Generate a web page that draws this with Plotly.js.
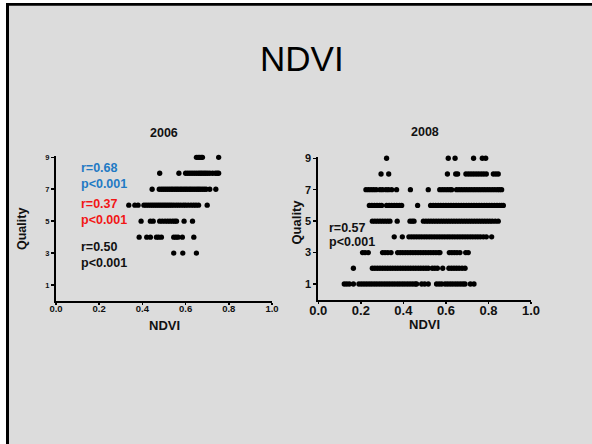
<!DOCTYPE html>
<html>
<head>
<meta charset="utf-8">
<script src="https://cdn.plot.ly/plotly-3.0.1.min.js"></script>
<style>
  html, body { margin: 0; padding: 0; background: #ffffff; }
  #chart { width: 592px; height: 444px; }
</style>
</head>
<body>
<div id="chart"></div>
<script>
// ---------- DATA ----------
var qualityTicks = [1, 3, 5, 7, 9];
var ndviTicks = [0.0, 0.2, 0.4, 0.6, 0.8, 1.0];

// 2006: NDVI values per quality level
var ndvi2006_q9 = [0.650, 0.658, 0.665, 0.672, 0.678, 0.753];
var ndvi2006_q8 = [0.480, 0.569, 0.600, 0.610, 0.620, 0.630, 0.640, 0.650, 0.660, 0.668, 0.676, 0.685, 0.693, 0.702, 0.712, 0.725, 0.738, 0.746, 0.753];
var ndvi2006_q7 = [0.445, 0.478, 0.488, 0.497, 0.506, 0.515, 0.524, 0.533, 0.541, 0.550, 0.558, 0.566, 0.575, 0.583, 0.592, 0.600, 0.608, 0.617, 0.625, 0.634, 0.643, 0.652, 0.660, 0.668, 0.677, 0.686, 0.695, 0.712, 0.740];
var ndvi2006_q6 = [0.337, 0.365, 0.380, 0.407, 0.417, 0.427, 0.437, 0.446, 0.455, 0.464, 0.473, 0.482, 0.491, 0.500, 0.509, 0.518, 0.527, 0.536, 0.546, 0.557, 0.567, 0.578, 0.590, 0.600, 0.612, 0.625, 0.637, 0.648, 0.660, 0.700];
var ndvi2006_q5 = [0.394, 0.437, 0.450, 0.480, 0.492, 0.505, 0.517, 0.528, 0.540, 0.550, 0.558, 0.593, 0.632];
var ndvi2006_q4 = [0.385, 0.420, 0.437, 0.465, 0.475, 0.488, 0.545, 0.555, 0.565, 0.585, 0.638];
var ndvi2006_q3 = [0.545, 0.587, 0.650];

// 2008: NDVI values per quality level
var ndvi2008_q9 = [0.321, 0.611, 0.643, 0.730, 0.771, 0.787];
var ndvi2008_q8 = [0.295, 0.331, 0.607, 0.646, 0.655, 0.694, 0.706, 0.718, 0.730, 0.742, 0.754, 0.766, 0.778, 0.790, 0.823, 0.835, 0.846];
var ndvi2008_q7 = [0.224, 0.236, 0.248, 0.260, 0.272, 0.290, 0.302, 0.318, 0.330, 0.345, 0.368, 0.433, 0.517, 0.571, 0.583, 0.595, 0.607, 0.619, 0.627, 0.650, 0.662, 0.674, 0.686, 0.698, 0.710, 0.722, 0.734, 0.746, 0.758, 0.770, 0.782, 0.794, 0.806, 0.818, 0.830, 0.842, 0.852, 0.862];
var ndvi2008_q6 = [0.240, 0.252, 0.264, 0.276, 0.288, 0.298, 0.321, 0.333, 0.345, 0.357, 0.369, 0.381, 0.392, 0.467, 0.528, 0.540, 0.552, 0.564, 0.576, 0.588, 0.600, 0.612, 0.624, 0.636, 0.648, 0.660, 0.672, 0.684, 0.696, 0.708, 0.720, 0.732, 0.744, 0.756, 0.768, 0.780, 0.792, 0.804, 0.816, 0.828, 0.840, 0.852, 0.862, 0.870];
var ndvi2008_q5 = [0.254, 0.266, 0.278, 0.290, 0.302, 0.314, 0.326, 0.337, 0.371, 0.431, 0.441, 0.450, 0.494, 0.506, 0.518, 0.530, 0.542, 0.554, 0.566, 0.578, 0.590, 0.602, 0.614, 0.626, 0.638, 0.650, 0.662, 0.674, 0.686, 0.698, 0.710, 0.722, 0.734, 0.746, 0.758, 0.770, 0.782, 0.794, 0.806, 0.818, 0.832, 0.846];
var ndvi2008_q4 = [0.357, 0.395, 0.426, 0.438, 0.450, 0.462, 0.474, 0.486, 0.498, 0.510, 0.522, 0.534, 0.546, 0.558, 0.570, 0.582, 0.594, 0.606, 0.618, 0.630, 0.642, 0.654, 0.666, 0.678, 0.690, 0.702, 0.714, 0.726, 0.738, 0.750, 0.762, 0.776, 0.790, 0.815];
var ndvi2008_q3 = [0.208, 0.220, 0.235, 0.302, 0.314, 0.327, 0.342, 0.373, 0.385, 0.397, 0.409, 0.421, 0.433, 0.445, 0.457, 0.469, 0.481, 0.493, 0.505, 0.517, 0.529, 0.541, 0.553, 0.565, 0.572, 0.616, 0.628, 0.640, 0.652, 0.666, 0.693, 0.705];
var ndvi2008_q2 = [0.165, 0.254, 0.266, 0.278, 0.290, 0.302, 0.314, 0.326, 0.338, 0.350, 0.362, 0.374, 0.386, 0.398, 0.410, 0.422, 0.434, 0.446, 0.458, 0.470, 0.482, 0.494, 0.506, 0.517, 0.536, 0.548, 0.560, 0.585, 0.614, 0.626, 0.638, 0.650, 0.662, 0.676, 0.690];
var ndvi2008_q1 = [0.122, 0.134, 0.146, 0.165, 0.191, 0.203, 0.215, 0.227, 0.239, 0.251, 0.263, 0.275, 0.287, 0.299, 0.311, 0.323, 0.335, 0.347, 0.359, 0.371, 0.383, 0.395, 0.407, 0.419, 0.431, 0.443, 0.455, 0.462, 0.486, 0.500, 0.517, 0.556, 0.568, 0.580, 0.596, 0.608, 0.620, 0.632, 0.644, 0.656, 0.668, 0.680, 0.690, 0.715, 0.732];

var stats2006 = [
  {r: "r=0.68", p: "p<0.001", color: "#1f7ac4"},
  {r: "r=0.37", p: "p<0.001", color: "#f21616"},
  {r: "r=0.50", p: "p<0.001", color: "#111111"}
];
var stats2008 = [{r: "r=0.57", p: "p<0.001", color: "#111111"}];

// ---------- BUILD ----------
function rows(list) {
  var xs = [], ys = [];
  list.forEach(function (row) {
    row[1].forEach(function (v) { xs.push(v); ys.push(row[0]); });
  });
  return {x: xs, y: ys};
}
var d2006 = rows([[9, ndvi2006_q9], [8, ndvi2006_q8], [7, ndvi2006_q7], [6, ndvi2006_q6],
                  [5, ndvi2006_q5], [4, ndvi2006_q4], [3, ndvi2006_q3]]);
var d2008 = rows([[9, ndvi2008_q9], [8, ndvi2008_q8], [7, ndvi2008_q7], [6, ndvi2008_q6],
                  [5, ndvi2008_q5], [4, ndvi2008_q4], [3, ndvi2008_q3], [2, ndvi2008_q2], [1, ndvi2008_q1]]);

var W = 592, H = 444;
function px(x) { return x / W; }
function py(y) { return 1 - y / H; }

var FONT = "Liberation Sans, Arial, Helvetica, sans-serif";
var marker = {size: 5.3, color: "#000000"};

var traces = [
  {x: d2006.x, y: d2006.y, type: "scatter", mode: "markers", marker: marker, xaxis: "x", yaxis: "y", cliponaxis: false, hoverinfo: "skip"},
  {x: d2008.x, y: d2008.y, type: "scatter", mode: "markers", marker: marker, xaxis: "x2", yaxis: "y2", cliponaxis: false, hoverinfo: "skip"}
];

function xaxisDef(d, fs) {
  return {
    domain: d, range: [0, 1], tickvals: ndviTicks, tickformat: ".1f",
    showgrid: false, zeroline: false, showline: true, linecolor: "#000", linewidth: 2,
    ticks: "outside", ticklen: 2, tickwidth: 1.5, tickcolor: "#000", ticklabelstandoff: -4,
    tickfont: {family: FONT, size: fs, color: "#111", weight: "bold"}, fixedrange: true
  };
}
function yaxisDef(d, fs, anchor) {
  return {
    domain: d, range: [0, 9.1], tickvals: qualityTicks, anchor: anchor,
    showgrid: false, zeroline: false, showline: true, linecolor: "#000", linewidth: 2,
    ticks: "outside", ticklen: 3, tickwidth: 1.5, tickcolor: "#000",
    tickfont: {family: FONT, size: fs, color: "#111", weight: "bold"}, fixedrange: true
  };
}

var xa1 = xaxisDef([px(56), px(272)], 9.5); xa1.anchor = "y";
var ya1 = yaxisDef([py(301), py(155.7)], 7.5, "x");
var xa2 = xaxisDef([px(318.3), px(531)], 13); xa2.anchor = "y2";
var ya2 = yaxisDef([py(299.7), py(156.7)], 11, "x2");

function ann(text, x, y, size, color, opts) {
  var a = {text: text, x: px(x), y: py(y), xref: "paper", yref: "paper",
           showarrow: false, xanchor: "center", yanchor: "middle",
           font: {family: FONT, size: size, color: color || "#111"}};
  for (var k in (opts || {})) a[k] = opts[k];
  return a;
}

var annotations = [
  ann("NDVI", 302, 58.5, 35, "#000"),
  ann("<b>2006</b>", 164.3, 133, 12.5),
  ann("<b>2008</b>", 424.5, 131.7, 12.5),
  ann("<b>NDVI</b>", 164.5, 325.5, 13),
  ann("<b>NDVI</b>", 424.8, 324, 13),
  ann("<b>Quality</b>", 22, 229, 12.5, "#111", {textangle: -90}),
  ann("<b>Quality</b>", 296, 222.5, 13, "#111", {textangle: -90})
];
var leftY = [[167.7, 184], [203.7, 219.7], [246.7, 263]];
stats2006.forEach(function (s, i) {
  annotations.push(ann("<b>" + s.r + "</b>", 79, leftY[i][0], 12.5, s.color, {xanchor: "left"}));
  annotations.push(ann("<b>" + s.p + "</b>", 79, leftY[i][1], 12.5, s.color, {xanchor: "left"}));
});
annotations.push(ann("<b>" + stats2008[0].r + "</b>", 326.5, 227.7, 12.5, stats2008[0].color, {xanchor: "left"}));
annotations.push(ann("<b>" + stats2008[0].p + "</b>", 326.5, 242.3, 12.5, stats2008[0].color, {xanchor: "left"}));

var shapes = [
  {type: "rect", xref: "paper", yref: "paper", x0: 0, x1: px(6), y0: 0, y1: 1, fillcolor: "#ffffff", line: {width: 0}, layer: "below"},
  {type: "rect", xref: "paper", yref: "paper", x0: 0, x1: 1, y0: py(3), y1: 1, fillcolor: "#ffffff", line: {width: 0}, layer: "below"},
  {type: "rect", xref: "paper", yref: "paper", x0: px(6), x1: px(9), y0: 0, y1: py(3), fillcolor: "#000000", line: {width: 0}, layer: "below"},
  {type: "rect", xref: "paper", yref: "paper", x0: px(6), x1: 1, y0: py(5.8), y1: py(3), fillcolor: "#000000", line: {width: 0}, layer: "below"}
];

var layout = {
  width: W, height: H,
  margin: {l: 0, r: 0, t: 0, b: 0, pad: 0},
  paper_bgcolor: "#dcdcdc", plot_bgcolor: "rgba(0,0,0,0)",
  showlegend: false, hovermode: false,
  font: {family: FONT, color: "#111"},
  xaxis: xa1, yaxis: ya1, xaxis2: xa2, yaxis2: ya2,
  annotations: annotations, shapes: shapes
};

Plotly.newPlot("chart", traces, layout, {staticPlot: true, displayModeBar: false});
</script>
</body>
</html>
